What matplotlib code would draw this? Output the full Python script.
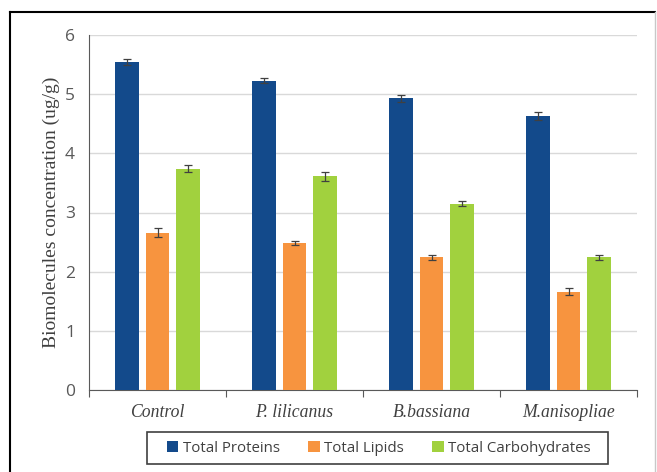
import matplotlib
matplotlib.use("Agg")
import matplotlib.pyplot as plt
import numpy as np
from matplotlib.patches import Rectangle
from matplotlib.lines import Line2D

categories = ["Control", "P. lilicanus", "B.bassiana", "M.anisopliae"]
series_names = ["Total Proteins", "Total Lipids", "Total Carbohydrates"]
proteins = [5.55, 5.23, 4.93, 4.63]
lipids = [2.66, 2.48, 2.24, 1.66]
carbs = [3.74, 3.61, 3.15, 2.24]
proteins_err = [0.05, 0.04, 0.06, 0.07]
lipids_err = [0.07, 0.03, 0.05, 0.06]
carbs_err = [0.06, 0.08, 0.04, 0.04]
colors = ["#134a8b", "#f7943f", "#a1d13e"]

fig = plt.figure(figsize=(6.57, 4.72), dpi=100)
ax = fig.add_axes([89/657, 1-390/472, (637-89)/657, (390-35)/472])

x = np.arange(len(categories))
w = 0.175
step = 0.222
data = [proteins, lipids, carbs]
errs = [proteins_err, lipids_err, carbs_err]
for i, (vals, er, c, name) in enumerate(zip(data, errs, colors, series_names)):
    ax.bar(x + (i-1)*step, vals, w, color=c, label=name, zorder=3,
           yerr=er, error_kw=dict(ecolor="#404040", elinewidth=0.9, capsize=3, capthick=0.9, zorder=4))

ax.set_xlim(-0.5, 3.5)
ax.set_ylim(0, 6)
ax.set_yticks(range(0, 7))
ax.yaxis.grid(True, color="#d9d9d9", linewidth=1, zorder=0)
ax.set_axisbelow(True)
for s in ["top", "right"]:
    ax.spines[s].set_visible(False)
ax.spines["left"].set_color("#595959")
ax.spines["bottom"].set_color("#595959")
ax.tick_params(axis="y", length=0, labelsize=12.5, labelcolor="#595959", pad=10)
for t in ax.get_yticklabels():
    t.set_fontfamily("Open Sans")
ax.set_xticks(np.arange(-0.5, 4, 1))
ax.set_xticklabels([])
ax.tick_params(axis="x", length=5, color="#595959")
ax.set_xticks(x, minor=True)
ax.set_xticklabels(categories, minor=True, fontfamily="Liberation Serif", fontstyle="italic",
                   fontsize=12.7, color="#404040")
ax.tick_params(axis="x", which="minor", length=0, pad=10)
ax.set_ylabel("Biomolecules concentration (ug/g)", fontfamily="Liberation Serif", fontsize=14,
              color="#404040", labelpad=4)

leg = fig.legend(loc="center", bbox_to_anchor=(379/657, 1-448/472), ncol=3, frameon=False,
                 handlelength=0.75, handleheight=0.75,
                 handletextpad=0.3, columnspacing=1.9, borderpad=0.5,
                 prop=dict(family="Open Sans", size=10.8))
for t in leg.get_texts():
    t.set_color("#404040")

fig.patches.append(Rectangle((147/657, 1-464/472), (608-147)/657, 32/472, transform=fig.transFigure,
                             fill=False, edgecolor="#404040", linewidth=1.2))

fig.lines.append(Line2D([10/657, 10/657], [0, 1-12/472], transform=fig.transFigure, color="black", linewidth=1.5))
fig.lines.append(Line2D([10/657, 655/657], [1-12/472, 1-12/472], transform=fig.transFigure, color="black", linewidth=1.5))
fig.lines.append(Line2D([655/657, 655/657], [0, 1-12/472], transform=fig.transFigure, color="#c8c8c8", linewidth=1.0))
fig.savefig("out.png", dpi=100)
